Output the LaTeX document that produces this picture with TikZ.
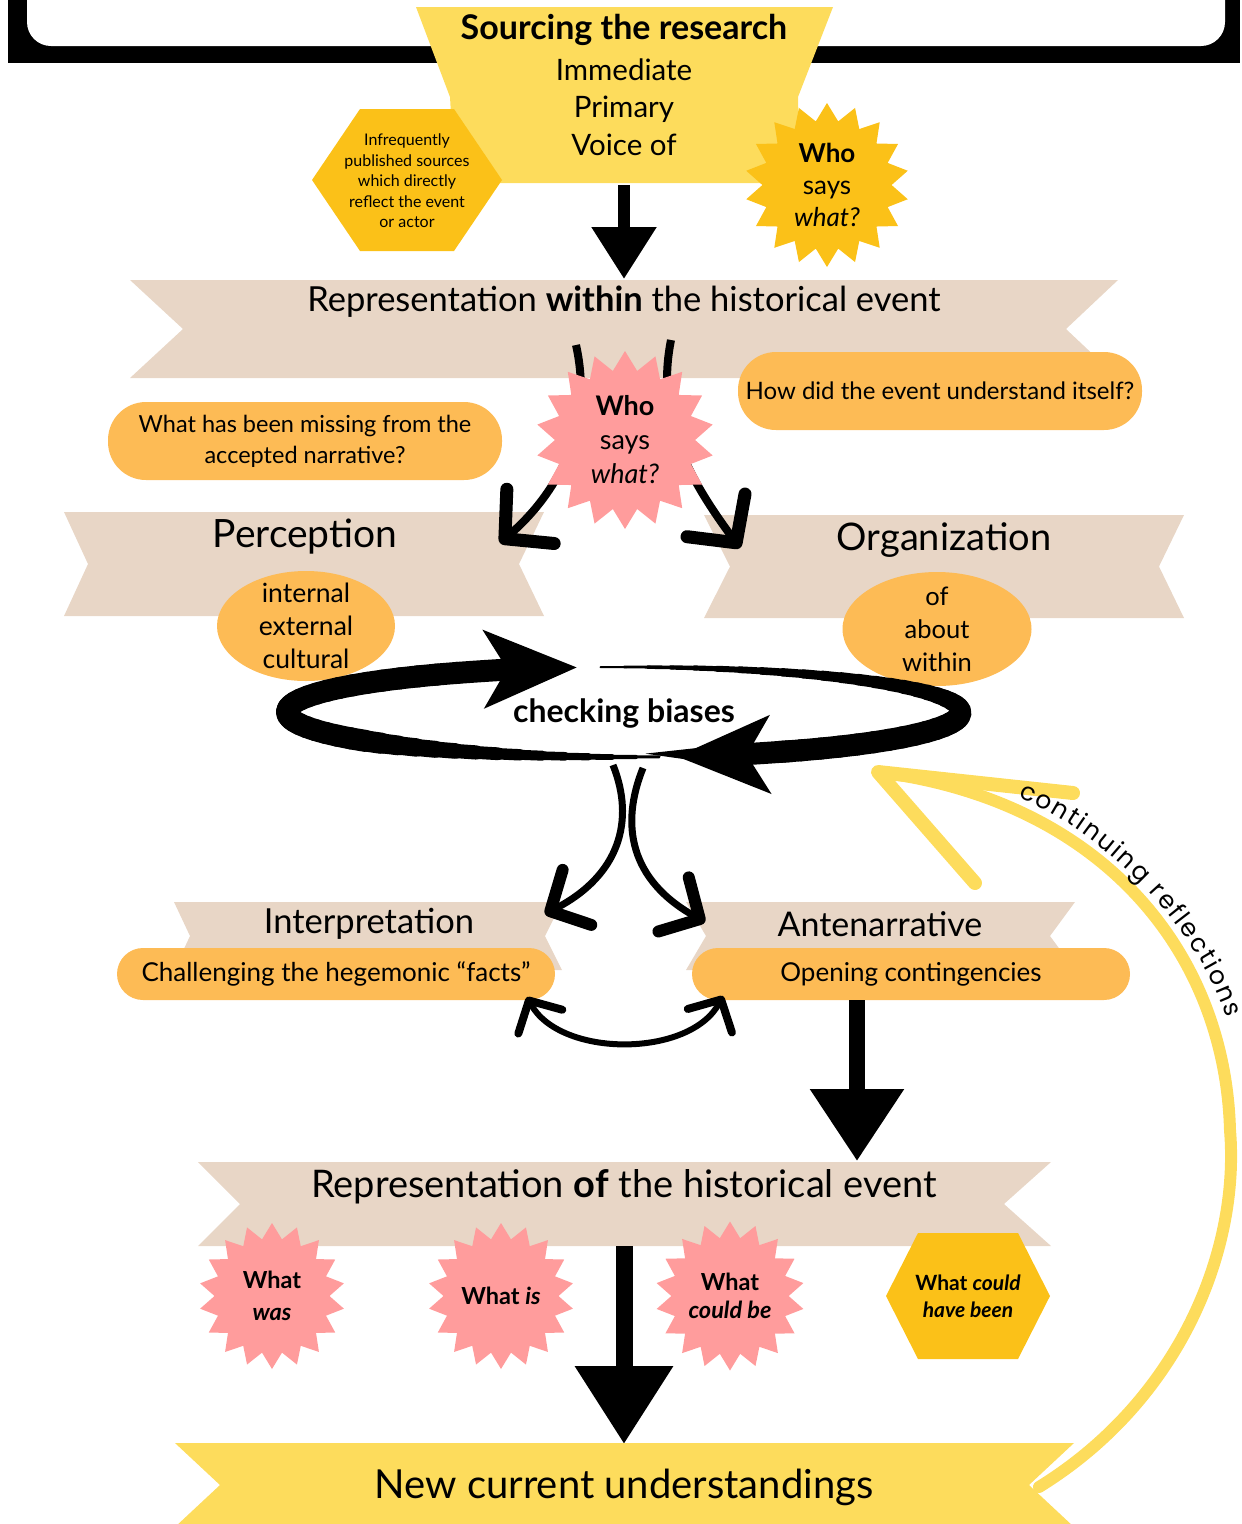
\documentclass[tikz,border=0pt]{standalone}
\usepackage{fontspec}
\setmainfont{Lato}
\newfontfamily\reflfont{Poppins}
\usetikzlibrary{shapes.geometric,arrows.meta,decorations.text}

\definecolor{ribbonbeige}{HTML}{E8D6C6}
\definecolor{sunyellow}{HTML}{FDDC5C}
\definecolor{hexgold}{HTML}{FBC118}
\definecolor{bloborange}{HTML}{FDBB55}
\definecolor{starpink}{HTML}{FF9C9C}

\newcommand\fs[2]{\fontsize{#1}{#2}\selectfont}
% notched ribbon: colour, left x, right x, top y, bottom y, left notch, right notch
\newcommand\ribbon[7][ribbonbeige]{%
  \fill[#1] (#2,#4) -- (#3,#4) -- (#3-#7,{(#4+#5)/2}) -- (#3,#5) -- (#2,#5) -- (#2+#6,{(#4+#5)/2}) -- cycle;}
% flat hexagon: centre x, centre y, half width, half height, inset
\newcommand\hexagon[5]{%
  \fill[hexgold] (#1-#3,#2) -- (#1-#3+#5,#2-#4) -- (#1+#3-#5,#2-#4) -- (#1+#3,#2) -- (#1+#3-#5,#2+#4) -- (#1-#3+#5,#2+#4) -- cycle;}

\begin{document}
\begin{tikzpicture}[x=1pt,y=-1pt,
  blob/.style={ellipse,fill=bloborange,inner sep=0pt},
  pill/.style={rectangle,rounded corners=#1,fill=bloborange,inner sep=0pt},
  burst/.style={star,star points=18,star point ratio=1.27,inner sep=0pt,align=center},
  blockarrow/.style={line width=#1},
  thincurve/.style={line width=8pt,-{Straight Barb[length=34pt,width=72pt,line width=13pt,round]}},
  lowcurve/.style={line width=7pt,-{Straight Barb[length=30pt,width=62pt,line width=12pt,round]}},
  reflect/.style={draw=sunyellow,line width=12pt,line cap=round}]
\useasboundingbox (0,0) rectangle (1242,1524);

% frame at the top
\fill (8,-10) rectangle (1240,63);
\fill[white,rounded corners=24pt] (27,-40) rectangle (1225,46);

% sourcing box
\fill[sunyellow] (416,7) -- (833,7) -- (798,97) -- (800,183) -- (455,183) -- (450,97) -- cycle;
\node[font=\bfseries\fs{34}{38}] (srctitle) at (624,30) {Sourcing the research};
\node[font=\fs{29.5}{37.5},align=center] (srclist) at (624,107) {Immediate\\Primary\\Voice of};
\coordinate (srcfoot) at (624,185);
\coordinate (withintop) at (624,279);
\draw[blockarrow=12pt,-{Triangle[length=52pt,width=62pt]}] (srcfoot) -- (withintop);

\hexagon{407}{180}{95}{71}{48}
\node[font=\fs{16}{20.5},align=center] (infreq) at (407,181) {Infrequently\\published sources\\which directly\\reflect the event\\or actor};
\node[burst,fill=hexgold,minimum size=164pt,font=\fs{26}{32}] (whotop) at (827,185) {\textbf{Who}\\says\\\textit{what?}};

% representation within
\ribbon{130}{1118}{280}{378}{53}{52}
\node[font=\fs{34.5}{38}] (within) at (624,302) {Representation \textbf{within} the historical event};

\ribbon{64}{544}{512}{616}{24}{25}
\node[font=\fs{39}{42}] (percep) at (305,537) {Perception};
\ribbon{704}{1184}{515}{618}{26}{25}
\node[font=\fs{38}{42}] (organ) at (944,540) {Organization};

\draw[thincurve] (576,345) .. controls (595,430) and (555,495) .. (500,543);
\draw[thincurve] (671,340) .. controls (655,420) and (690,480) .. (740,548);
\node[burst,fill=starpink,minimum size=178pt,font=\fs{27}{34}] (whomid) at (625,440) {\textbf{Who}\\says\\\textit{what?}};

\node[pill=38pt,minimum width=404pt,minimum height=78pt] (howdid) at (940,391) {};
\node[font=\fs{24}{30}] (howtext) at (howdid) {How did the event understand itself?};
\node[pill=38pt,minimum width=394pt,minimum height=78pt] (missing) at (305,441) {};
\node[font=\fs{23.5}{31},align=center] (missingtext) at (missing) {What has been missing from the\\accepted narrative?};
\node[blob,minimum width=178pt,minimum height=110pt] (percitems) at (306,626) {};
\node[font=\fs{26.5}{33},align=center] (perctext) at (percitems) {internal\\external\\cultural};
\node[blob,minimum width=189pt,minimum height=114pt] (orgitems) at (937,629) {};
\node[font=\fs{25.5}{33},align=center] (orgtext) at (orgitems) {of\\about\\within};

% continuing reflections
\coordinate (reflstart) at (1039,1487);
\coordinate (refltip) at (878,772);
\draw[reflect] (reflstart) .. controls (1180,1400) and (1240,1250) .. (1230,1130) .. controls (1225,950) and (1100,800) .. (refltip);
\draw[reflect,line width=14pt,line join=round] (1073,793) -- (refltip) -- (975,883);
\path[decorate,decoration={text along path,text align=fit to path,
  text={|\reflfont\fs{25}{25}|continuing reflections}}]
  (1018,798) .. controls (1100,828) and (1200,930) .. (1227,1018);

% checking biases loop
\coordinate (loopc) at (624,712);
\foreach \a in {84,88,...,236}
{
\pgfmathsetmacro\w{min(3+(\a-84)*0.35,22)}
\draw[line width=\w pt,line cap=round] (loopc) ++(\a:337 and 45) arc[start angle=\a,delta angle=4.5,x radius=337,y radius=45];
}
\draw[line width=22pt,-{Stealth[length=92pt,width=76pt,inset=22pt]}] (loopc) ++(240:337 and 45) arc[start angle=240,end angle=262,x radius=337,y radius=45];
\foreach \a in {266,270,...,418}
{
\pgfmathsetmacro\w{min(2+(\a-266)*0.2,22)}
\draw[line width=\w pt,line cap=round] (loopc) ++(\a:337 and 45) arc[start angle=\a,delta angle=4.5,x radius=337,y radius=45];
}
\draw[line width=22pt,-{Stealth[length=92pt,width=76pt,inset=22pt]}] (loopc) ++(420:337 and 45) arc[start angle=420,end angle=441,x radius=337,y radius=45];
\node[font=\bfseries\fs{32}{36}] (checking) at (624,713) {checking biases};

% interpretation and antenarrative
\ribbon{174}{562}{902}{970}{16}{17}
\node[font=\fs{34.5}{38}] (interp) at (369,924) {Interpretation};
\ribbon{686}{1075}{902}{970}{20}{25}
\node[font=\fs{34}{38}] (antenar) at (880,924) {Antenarrative};
\draw[lowcurve] (613,765) .. controls (635,820) and (620,875) .. (545,914);
\draw[lowcurve] (643,768) .. controls (620,825) and (630,880) .. (705,922);
\node[pill=26pt,minimum width=438pt,minimum height=52pt] (challenge) at (336,974) {};
\node[font=\fs{26}{30}] (challtext) at (challenge) {Challenging the hegemonic “facts”};
\node[pill=26pt,minimum width=438pt,minimum height=52pt] (opening) at (911,974) {};
\node[font=\fs{26}{30}] (opentext) at (opening) {Opening contingencies};

\draw[line width=6pt,{Straight Barb[length=24pt,width=50pt,line width=8pt,round]}-{Straight Barb[length=24pt,width=50pt,line width=8pt,round]}] (527,997) .. controls (560,1058) and (690,1058) .. (723,996);

\coordinate (openfoot) at (857,1000);
\coordinate (oftop) at (857,1161);
\draw[blockarrow=16pt,-{Triangle[length=72pt,width=90pt]}] (openfoot) -- (oftop);

% representation of
\ribbon{198}{1051}{1162}{1246}{42}{47}
\node[font=\fs{38}{42}] (ofevent) at (624,1187) {Representation \textbf{of} the historical event};
\node[burst,fill=starpink,minimum size=146pt,font=\bfseries\fs{23.5}{32}] (whatwas) at (272,1296) {What\\\textit{was}};
\node[burst,fill=starpink,minimum size=146pt,font=\bfseries\fs{23.5}{28}] (whatis) at (501,1296) {What \textit{is}};
\node[burst,fill=starpink,minimum size=146pt,font=\bfseries\fs{23.5}{28}] (whatcould) at (730,1296) {What\\\textit{could be}};
\hexagon{968}{1296}{82}{63}{32}
\node[font=\bfseries\fs{21}{27},align=center] (couldhave) at (968,1296) {What \textit{could}\\\textit{have been}};

\coordinate (offoot) at (624,1246);
\coordinate (newtop) at (624,1444);
\draw[blockarrow=17pt,-{Triangle[length=78pt,width=94pt]}] (offoot) -- (newtop);

% new understandings
\ribbon[sunyellow]{175}{1074}{1443}{1527}{45}{45}
\node[font=\fs{40}{44}] (newunder) at (624,1487) {New current understandings};
\end{tikzpicture}
\end{document}
